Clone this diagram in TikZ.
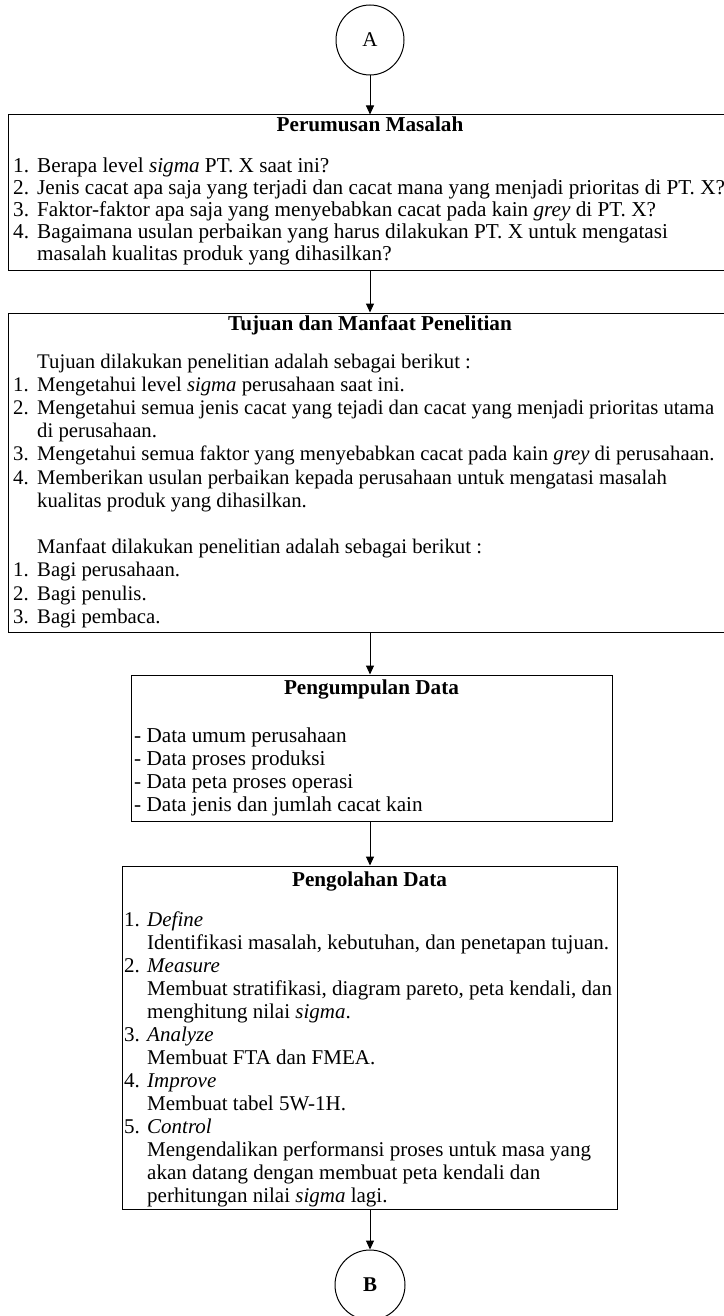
\documentclass[tikz,border=0pt]{standalone}
\usepackage{fontspec}
\setmainfont{Liberation Serif}
\usetikzlibrary{arrows.meta,shapes.geometric}
\tikzset{
  boxnode/.style={draw=black, line width=1pt, rectangle, inner sep=0pt},
  connnode/.style={draw=black, line width=1pt, ellipse, minimum width=68pt, minimum height=70pt, inner sep=0pt, font=\fontsize{21}{24}\selectfont},
  titlenode/.style={anchor=base, inner sep=0pt, font=\fontsize{21.2}{24}\selectfont\bfseries},
  txtnode/.style={anchor=base west, inner sep=0pt, align=left},
  arr/.style={draw=black, line width=1pt, -{Triangle[width=8pt,length=9pt]}}
}
\begin{document}
\begin{tikzpicture}[x=1pt,y=-1pt]
\useasboundingbox[fill=white] (0,0) rectangle (723,1316);
% connectors / boxes
\node[connnode] (A) at (370,40) {A};
\node[boxnode, minimum width=718pt, minimum height=155pt] (B1) at (367,192.5) {};
\node[boxnode, minimum width=718pt, minimum height=319pt] (B2) at (367,472.5) {};
\node[boxnode, minimum width=481pt, minimum height=146pt] (B3) at (371.5,748) {};
\node[boxnode, minimum width=495pt, minimum height=343pt] (B4) at (369.5,1037.5) {};
\node[connnode, minimum width=70pt, font=\fontsize{21}{24}\selectfont\bfseries] (B) at (370,1285) {B};
\draw[arr] (A.south) -- (A.south |- B1.north);
\draw[arr] (B1.south -| A) -- (B2.north -| A);
\draw[arr] (B2.south -| A) -- (B3.north -| A);
\draw[arr] (B3.south -| A) -- (B4.north -| A);
\draw[arr] (B4.south -| A) -- (B.north);
% box 1
\node[titlenode] (T1) at (370,132) {Perumusan Masalah};
\node[txtnode, font=\fontsize{21.2}{22.25}\selectfont] (L1) at (13,172) {\begin{tabular}[t]{@{}p{24pt}@{}l@{}}
1. & Berapa level \textit{sigma} PT. X saat ini?\\
2. & Jenis cacat apa saja yang terjadi dan cacat mana yang menjadi prioritas di PT. X?\\
3. & Faktor-faktor apa saja yang menyebabkan cacat pada kain \textit{grey} di PT. X?\\
4. & Bagaimana usulan perbaikan yang harus dilakukan PT. X untuk mengatasi\\
   & masalah kualitas produk yang dihasilkan?
\end{tabular}};
% box 2
\node[titlenode] (T2) at (370,330) {Tujuan dan Manfaat Penelitian};
\node[txtnode, font=\fontsize{20.75}{23.2}\selectfont] (L2) at (13,368) {\begin{tabular}[t]{@{}p{24pt}@{}l@{}}
   & Tujuan dilakukan penelitian adalah sebagai berikut :\\
1. & Mengetahui level \textit{sigma} perusahaan saat ini.\\
2. & Mengetahui semua jenis cacat yang tejadi dan cacat yang menjadi prioritas utama\\
   & di perusahaan.\\
3. & Mengetahui semua faktor yang menyebabkan cacat pada kain \textit{grey} di perusahaan.\\
4. & Memberikan usulan perbaikan kepada perusahaan untuk mengatasi masalah\\
   & kualitas produk yang dihasilkan.\\
   & \\
   & Manfaat dilakukan penelitian adalah sebagai berikut :\\
1. & Bagi perusahaan.\\
2. & Bagi penulis.\\
3. & Bagi pembaca.
\end{tabular}};
% box 3
\node[titlenode] (T3) at (371.5,694) {Pengumpulan Data};
\node[txtnode, font=\fontsize{21.2}{23}\selectfont] (L3) at (134,742) {\begin{tabular}[t]{@{}l@{}}
- Data umum perusahaan\\
- Data proses produksi\\
- Data peta proses operasi\\
- Data jenis dan jumlah cacat kain
\end{tabular}};
% box 4
\node[titlenode] (T4) at (369.5,886) {Pengolahan Data};
\node[txtnode, font=\fontsize{21}{23}\selectfont] (L4) at (124,926) {\begin{tabular}[t]{@{}p{23pt}@{}l@{}}
1. & \textit{Define}\\
   & Identifikasi masalah, kebutuhan, dan penetapan tujuan.\\
2. & \textit{Measure}\\
   & Membuat stratifikasi, diagram pareto, peta kendali, dan\\
   & menghitung nilai \textit{sigma}.\\
3. & \textit{Analyze}\\
   & Membuat FTA dan FMEA.\\
4. & \textit{Improve}\\
   & Membuat tabel 5W-1H.\\
5. & \textit{Control}\\
   & Mengendalikan performansi proses untuk masa yang\\
   & akan datang dengan membuat peta kendali dan\\
   & perhitungan nilai \textit{sigma} lagi.
\end{tabular}};
\end{tikzpicture}
\end{document}
